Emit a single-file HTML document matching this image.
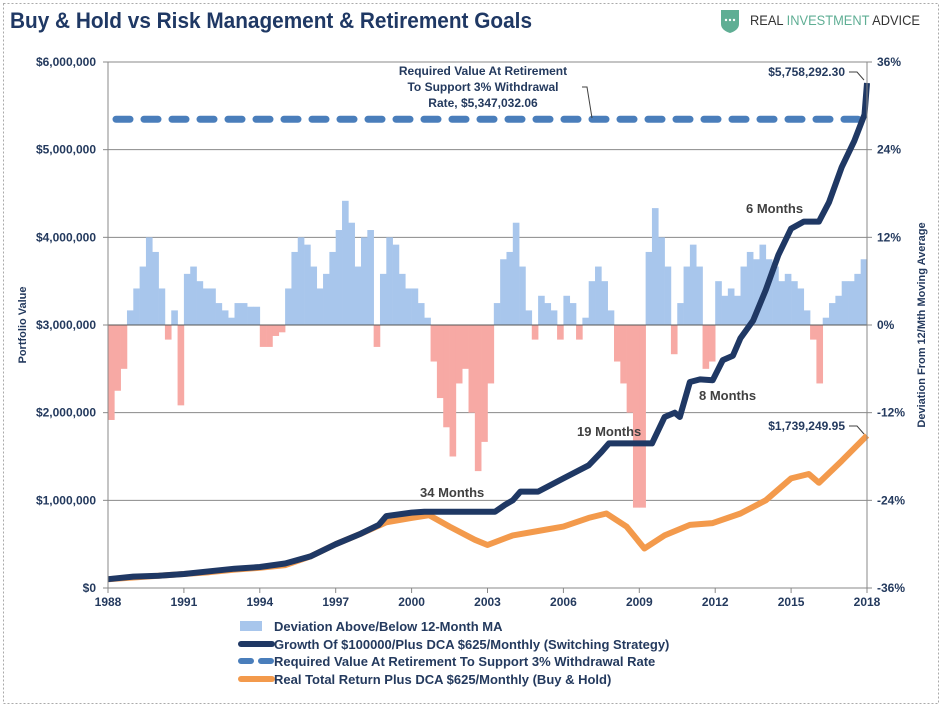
<!DOCTYPE html>
<html><head><meta charset="utf-8"><style>
body{margin:0;background:#fff;}
svg{display:block;font-family:"Liberation Sans Narrow","Liberation Sans",sans-serif;}
.tk{font-size:12px;font-weight:bold;fill:#243a5e;}
.ann{font-size:13px;font-weight:bold;fill:#404040;}
.lab{font-size:11px;font-weight:bold;fill:#243a5e;}
.leg{font-size:13px;font-weight:bold;fill:#243a5e;}
</style></head><body>
<svg id="chart" width="942" height="707" viewBox="0 0 942 707">
<rect x="3.5" y="3.5" width="935" height="700" fill="none" stroke="#aaa" stroke-dasharray="2,2"/>
<text x="10" y="28" font-size="22" font-weight="bold" fill="#1f3864" textLength="522" lengthAdjust="spacingAndGlyphs">Buy &amp; Hold vs Risk Management &amp; Retirement Goals</text>
<g>
<path d="M721 10 h18 v14 q0 6 -9 9 q-9 -3 -9 -9z" fill="#5fae94"/>
<circle cx="726" cy="20" r="1.2" fill="#fff"/><circle cx="730" cy="20" r="1.2" fill="#fff"/><circle cx="734" cy="20" r="1.2" fill="#fff"/>
<text x="750" y="25" font-size="14" font-family="Liberation Sans" textLength="170" lengthAdjust="spacingAndGlyphs"><tspan fill="#333">REAL </tspan><tspan fill="#5fae94">INVESTMENT</tspan><tspan fill="#333"> ADVICE</tspan></text>
</g>
<g id="grid"></g>
<g id="bars"></g>
<g id="lines"></g>
<g id="axes"></g>
<text class="lab" transform="translate(26,325) rotate(-90)" text-anchor="middle">Portfolio Value</text>
<text class="lab" transform="translate(925,325) rotate(-90)" text-anchor="middle">Deviation From 12/Mth Moving Average</text>
<g>
<text class="tk" x="483" y="75" text-anchor="middle" font-size="11.5">Required Value At Retirement</text>
<text class="tk" x="483" y="91" text-anchor="middle" font-size="11.5">To Support 3% Withdrawal</text>
<text class="tk" x="483" y="107" text-anchor="middle" font-size="11.5">Rate, $5,347,032.06</text>
<polyline points="582,87 587,87 592,118" fill="none" stroke="#404040"/>
<text class="tk" x="845" y="76" text-anchor="end" font-size="11.5">$5,758,292.30</text>
<polyline points="849,72 857,72 864,80" fill="none" stroke="#404040"/>
<text class="tk" x="845" y="430" text-anchor="end" font-size="11.5">$1,739,249.95</text>
<polyline points="849,426 857,426 864,434" fill="none" stroke="#404040"/>
<text class="ann" x="420" y="497">34 Months</text>
<text class="ann" x="577" y="436">19 Months</text>
<text class="ann" x="699" y="400">8 Months</text>
<text class="ann" x="746" y="213">6 Months</text>
</g>
<g>
<rect x="240" y="621" width="22" height="10" fill="#a8c6ec"/>
<text class="leg" x="274" y="631">Deviation Above/Below 12-Month MA</text>
<line x1="241" y1="644" x2="272" y2="644" stroke="#1f3864" stroke-width="6" stroke-linecap="round"/>
<text class="leg" x="274" y="649">Growth Of $100000/Plus DCA $625/Monthly (Switching Strategy)</text>
<line x1="241" y1="661" x2="272" y2="661" stroke="#4a7ebb" stroke-width="6" stroke-linecap="round" stroke-dasharray="10,10"/>
<text class="leg" x="274" y="666">Required Value At Retirement To Support 3% Withdrawal Rate</text>
<line x1="241" y1="679" x2="272" y2="679" stroke="#f39a4c" stroke-width="6" stroke-linecap="round"/>
<text class="leg" x="274" y="684">Real Total Return Plus DCA $625/Monthly (Buy &amp; Hold)</text>
</g>
</svg>
<script>
const yTicksLeft=["$0","$1,000,000","$2,000,000","$3,000,000","$4,000,000","$5,000,000","$6,000,000"];
const yTicksRight=["-36%","-24%","-12%","0%","12%","24%","36%"];
const xTicks=[1988,1991,1994,1997,2000,2003,2006,2009,2012,2015,2018];
const deviation=[-13,-9,-6,2, 5,8,12,10, 5,-2,2,-11, 7,8,6,5, 5,3,2,1, 3,3,2.5,2.5, -3,-3,-1.5,-1, 5,10,12,11, 8,5,7,10, 13,17,14,8, 12,13,-3,7, 12,11,7,5, 5,3,1,-5, -10,-14,-18,-8, -6,-12,-20,-16, -8,3,9,10, 14,8,2,-2, 4,3,2,-2, 4,3,-2,1, 6,8,6,2, -5,-8,-12,-25, -25,10,16,12, 8,-4,3,8, 11,8,-6,-5, 6,4,5,4, 8,10,9,11, 9,8,6,7, 6,5,2,-2, -8,1,3,4, 6,6,7,9];
const switchYears=[1988,1989,1990,1991,1992,1993,1994,1995,1996,1997,1998,1998.7,1999,2000,2000.5,2003.3,2003.7,2004,2004.3,2005,2006,2007,2007.5,2007.8,2009.5,2010,2010.4,2010.6,2011,2011.4,2011.9,2012.3,2012.7,2013,2013.5,2014,2014.5,2015,2015.5,2016.1,2016.5,2017,2017.5,2017.9,2018];
const switchValues=[0.1,0.13,0.14,0.16,0.19,0.22,0.24,0.28,0.36,0.5,0.62,0.72,0.82,0.86,0.87,0.87,0.95,1.0,1.1,1.1,1.25,1.4,1.55,1.65,1.65,1.95,2.0,1.95,2.35,2.38,2.37,2.6,2.65,2.85,3.05,3.4,3.8,4.1,4.18,4.18,4.4,4.8,5.1,5.4,5.76];
const bhYears=[1988,1989,1990,1991,1992,1993,1994,1995,1996,1997,1998,1999,2000,2000.7,2001.5,2002.5,2003,2004,2005,2006,2007,2007.7,2008.5,2009.2,2010,2011,2011.9,2013,2014,2015,2015.7,2016.1,2017,2018];
const bhValues=[0.1,0.12,0.14,0.16,0.18,0.21,0.23,0.26,0.36,0.5,0.62,0.75,0.8,0.83,0.7,0.55,0.49,0.6,0.65,0.7,0.8,0.85,0.7,0.45,0.6,0.72,0.74,0.85,1.0,1.25,1.3,1.2,1.45,1.74];
const requiredValue=5.347;
const NS="http://www.w3.org/2000/svg";
const X0=108,X1=867,Y0=588,Y1=62;
const xs=t=>X0+(t-1988)/30*(X1-X0);
const yL=v=>Y0-v/6*(Y0-Y1);
const yR=p=>Y0-(p+36)/72*(Y0-Y1);
function mk(tag,attrs,parent){const e=document.createElementNS(NS,tag);for(const k in attrs)e.setAttribute(k,attrs[k]);document.getElementById(parent).appendChild(e);return e;}
for(let i=0;i<yTicksLeft.length;i++){
 const y=yL(i);
 if(i>0){const g=mk('line',{x1:X0,x2:X1,y1:y,y2:y,stroke:'#8a8a8a','stroke-width':1},'grid');
 
 }
 const t=mk('text',{x:X0-12,y:y+4,'text-anchor':'end',class:'tk'},'axes');t.textContent=yTicksLeft[i];
 
 
 mk('line',{x1:X0-5,x2:X0,y1:y,y2:y,stroke:'#888'},'axes');
}
for(let i=0;i<yTicksRight.length;i++){
 const y=yR(-36+12*i);
 const t=mk('text',{x:X1+10,y:y+4,class:'tk'},'axes');t.textContent=yTicksRight[i];
 
 
 mk('line',{x1:X1,x2:X1+5,y1:y,y2:y,stroke:'#888'},'axes');
}
xTicks.forEach(yr=>{const x=xs(yr);
 const t=mk('text',{x:x,y:Y0+18,'text-anchor':'middle',class:'tk'},'axes');t.textContent=yr;
 
 
 mk('line',{x1:x,x2:x,y1:Y0,y2:Y0+5,stroke:'#888'},'axes');});
mk('line',{x1:X0,x2:X0,y1:Y1,y2:Y0,stroke:'#888'},'axes');
mk('line',{x1:X1,x2:X1,y1:Y1,y2:Y0,stroke:'#888'},'axes');
mk('line',{x1:X0,x2:X1,y1:Y0,y2:Y0,stroke:'#888'},'axes');
const bw=(X1-X0)/deviation.length;
deviation.forEach((v,i)=>{const x=xs(1988+i*0.25);const y0=yR(0),y=yR(v);
 const r=mk('rect',{x:x,y:Math.min(y0,y),width:bw+0.3,height:Math.abs(y-y0),fill:v>=0?'#a8c6ec':'#f7a9a4'},'bars');
 
 });
mk('line',{x1:X0,x2:X1,y1:yR(0),y2:yR(0),stroke:'#555','stroke-width':1},'bars');
const rq=mk('line',{x1:X0+8,x2:X1,y1:yL(requiredValue),y2:yL(requiredValue),stroke:'#4a7ebb','stroke-width':7,'stroke-linecap':'round','stroke-dasharray':'14,14'},'lines');


function path(xsArr,vs){return xsArr.map((t,i)=>(i?'L':'M')+xs(t).toFixed(1)+','+yL(vs[i]).toFixed(1)).join(' ');}
const bh=mk('path',{d:path(bhYears,bhValues),fill:'none',stroke:'#f39a4c','stroke-width':6,'stroke-linejoin':'round'},'lines');


const sw=mk('path',{d:path(switchYears,switchValues),fill:'none',stroke:'#1f3864','stroke-width':6,'stroke-linejoin':'round'},'lines');


</script>
</body></html>
